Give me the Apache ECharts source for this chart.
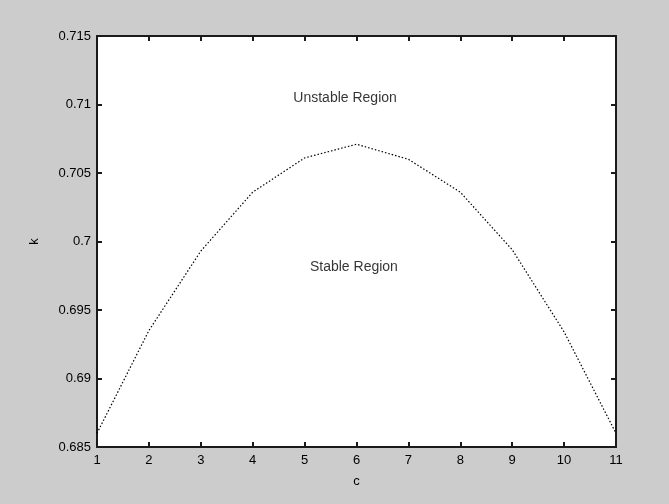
<!DOCTYPE html>
<html>
<head>
<meta charset="utf-8">
<script src="https://cdn.jsdelivr.net/npm/echarts@6/dist/echarts.min.js"></script>
<style>html,body{margin:0;padding:0;background:#cccccc;}#c{width:669px;height:504px;}</style>
</head>
<body>
<div id="c"></div>
<script>
const xValues = [1, 2, 3, 4, 5, 6, 7, 8, 9, 10, 11];
const kValues = [0.6860, 0.6935, 0.6993, 0.7036, 0.7061, 0.7071, 0.7060, 0.7036, 0.6994, 0.6934, 0.6860];
const regionLabels = ['Unstable Region', 'Stable Region'];
const regionX = [5.78, 5.95];
const regionY = [0.7105, 0.6981];
const xAxisName = 'c';
const yAxisName = 'k';

const chart = echarts.init(document.getElementById('c'), null, {renderer: 'canvas'});
const lbl = {color: '#000', fontFamily: 'Liberation Sans, Arial, sans-serif', fontSize: 13};
const axisCommon = {
  axisLine: {show: true, lineStyle: {color: '#1a1a1a', width: 2}},
  axisTick: {show: true, inside: true, length: 5, lineStyle: {color: '#1a1a1a', width: 2}},
  splitLine: {show: false}
};
chart.setOption({
  backgroundColor: '#cccccc',
  animation: false,
  grid: {left: 97, top: 36, right: 53, bottom: 57, show: true, backgroundColor: '#ffffff', borderWidth: 0},
  xAxis: [
    Object.assign({type: 'value', min: 1, max: 11, interval: 1, position: 'bottom',
      name: xAxisName, nameLocation: 'middle', nameGap: 28, nameTextStyle: lbl,
      axisLabel: Object.assign({margin: 7}, lbl)}, axisCommon),
    Object.assign({type: 'value', min: 1, max: 11, interval: 1, position: 'top',
      axisLabel: {show: false}}, axisCommon)
  ],
  yAxis: [
    Object.assign({type: 'value', min: 0.685, max: 0.715, interval: 0.005, position: 'left',
      name: yAxisName, nameLocation: 'middle', nameGap: 56, nameRotate: 90, nameTextStyle: lbl,
      axisLabel: Object.assign({margin: 6, formatter: v => String(+v.toFixed(3))}, lbl)}, axisCommon),
    Object.assign({type: 'value', min: 0.685, max: 0.715, interval: 0.005, position: 'right',
      axisLabel: {show: false}}, axisCommon)
  ],
  series: [
    {
      type: 'line',
      data: xValues.map((x, i) => [x, kValues[i]]),
      showSymbol: false,
      lineStyle: {color: '#000', width: 1.2, type: [1.5, 2]},
      silent: true
    },
    {
      type: 'scatter',
      symbolSize: 0,
      data: regionLabels.map((t, i) => ({value: [regionX[i], regionY[i]], name: t})),
      label: Object.assign({show: true, position: 'inside', formatter: p => p.name}, lbl, {fontSize: 14}),
      silent: true
    }
  ]
});
</script>
</body>
</html>
